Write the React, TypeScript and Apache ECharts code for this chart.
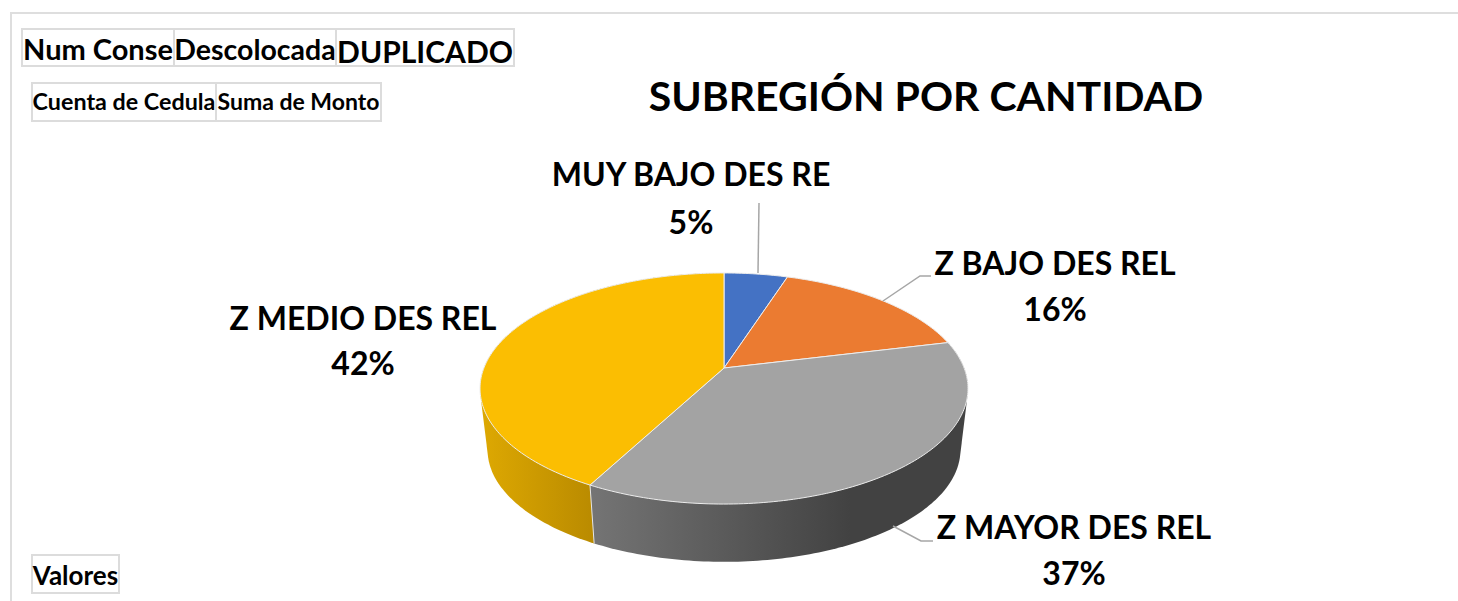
import React, { useEffect, useRef } from "react";
import * as echarts from "echarts";

const categories = ["MUY BAJO DES RE", "Z BAJO DES REL", "Z MAYOR DES REL", "Z MEDIO DES REL"];
const sliceValues = [5.0, 16.2, 36.6, 42.2];
const sliceColors = ["#4472C4", "#EB7B31", "#A3A3A3", "#FBBE02"];
const titleText = "SUBREGIÓN POR CANTIDAD";
const topFields = ["Num Conse", "Descolocada", "DUPLICADO"];
const valueFields = ["Cuenta de Cedula", "Suma de Monto"];
const axisField = "Valores";

// layout only
const FONT = "Lato, Carlito, Calibri, sans-serif";
const CX = 724, APEX_Y = 368, BASE_Y = 430, BASE_SCALE = 0.969;
const R = 240.1, S = 111.9, K = 0.1775;
const labelPos = [
  { x: 691, y: 173, py: 221 },
  { x: 1055, y: 262, py: 308 },
  { x: 1074, y: 526, py: 572 },
  { x: 363, y: 317, py: 362 },
];
const leaders: number[][][] = [
  [[758, 273], [759, 203]],
  [[883, 301], [920, 276], [931, 276]],
  [[893, 526], [921, 541], [933, 541]],
  [],
];
const wallFill: any[] = [
  null,
  null,
  { type: "linear", x: 593, y: 0, x2: 850, y2: 0, global: true, colorStops: [{ offset: 0, color: "#747474" }, { offset: 1, color: "#424242" }] },
  { type: "linear", x: 483, y: 0, x2: 592, y2: 0, global: true, colorStops: [{ offset: 0, color: "#DDA802" }, { offset: 1, color: "#BA8B00" }] },
];

function project(turn: number, y0: number, s: number): number[] {
  const a = turn * 2 * Math.PI;
  const u = Math.sin(a), v = -Math.cos(a);
  const d = 1 - K * v;
  return [CX + (s * R * u) / d, y0 + (s * S * v) / d];
}

function arc(from: number, to: number, y0: number, s: number): number[][] {
  const n = Math.max(2, Math.ceil((to - from) * 360));
  const pts: number[][] = [];
  for (let i = 0; i <= n; i++) pts.push(project(from + ((to - from) * i) / n, y0, s));
  return pts;
}

// Outline of a wall: the swept band between the rim and the base of a slice.
function hull(points: number[][]): number[][] {
  const p = points.slice().sort((a, b) => a[0] - b[0] || a[1] - b[1]);
  const cross = (o: number[], a: number[], b: number[]) =>
    (a[0] - o[0]) * (b[1] - o[1]) - (a[1] - o[1]) * (b[0] - o[0]);
  const lower: number[][] = [];
  for (const q of p) {
    while (lower.length >= 2 && cross(lower[lower.length - 2], lower[lower.length - 1], q) <= 0) lower.pop();
    lower.push(q);
  }
  const upper: number[][] = [];
  for (let i = p.length - 1; i >= 0; i--) {
    const q = p[i];
    while (upper.length >= 2 && cross(upper[upper.length - 2], upper[upper.length - 1], q) <= 0) upper.pop();
    upper.push(q);
  }
  return lower.slice(0, -1).concat(upper.slice(0, -1));
}

const total = sliceValues.reduce((a, b) => a + b, 0);

function renderItem(params: any, api: any) {
  const i = params.dataIndex;
  const before = sliceValues.slice(0, i).reduce((a, b) => a + b, 0);
  const from = before / total;
  const to = from + Number(api.value(0)) / total;
  const children: any[] = [];
  if (wallFill[i]) {
    const top = arc(from, to, APEX_Y, 1);
    const base = arc(from, to, BASE_Y, BASE_SCALE);
    children.push({
      type: "polygon",
      z2: i === 2 ? 2 : 1,
      shape: { points: hull(top.concat(base)) },
      style: { fill: wallFill[i], stroke: "none" },
    });
    if (i === 3) {
      children.push({
        type: "polyline",
        z2: 3,
        shape: { points: [project(from, APEX_Y, 1), project(from, BASE_Y, BASE_SCALE)] },
        style: { fill: "none", stroke: "#E6E6E6", lineWidth: 1 },
      });
    }
  }
  children.push({
    type: "polygon",
    z2: 4,
    shape: { points: [[CX, APEX_Y]].concat(arc(from, to, APEX_Y, 1)) },
    style: { fill: sliceColors[i], stroke: "#EDEDED", lineWidth: 1 },
  });
  if (leaders[i].length) {
    children.push({
      type: "polyline",
      z2: 5,
      shape: { points: leaders[i] },
      style: { fill: "none", stroke: "#A6A6A6", lineWidth: 1.5 },
    });
  }
  const pct = Math.round((Number(api.value(0)) / total) * 100) + "%";
  const p = labelPos[i];
  const textStyle = { fill: "#000", font: `bold 32px ${FONT}`, align: "center", verticalAlign: "middle" };
  children.push({ type: "text", z2: 6, x: p.x, y: p.y, style: { ...textStyle, text: categories[i] } });
  children.push({ type: "text", z2: 6, x: p.x, y: p.py, style: { ...textStyle, text: pct } });
  return { type: "group", children };
}

function fieldButton(x: number, y: number, w: number, h: number, text: string, size: number, dy: number) {
  return {
    type: "group",
    children: [
      { type: "rect", shape: { x, y, width: w, height: h }, style: { fill: "#fff", stroke: "#DCDCDC", lineWidth: 2 } },
      {
        type: "text",
        x: x + w / 2,
        y: y + h / 2 + dy,
        style: { text, fill: "#000", font: `bold ${size}px ${FONT}`, align: "center", verticalAlign: "middle" },
      },
    ],
  };
}

export default function App() {
  const ref = useRef<HTMLDivElement>(null);
  useEffect(() => {
    if (!ref.current) return;
    const chart = echarts.init(ref.current, undefined, { renderer: "svg" });
    chart.setOption({
      animation: false,
      backgroundColor: "#fff",
      title: {
        text: titleText,
        left: 921,
        top: 70,
        textAlign: "center",
        textStyle: { color: "#000", fontFamily: FONT, fontWeight: "bold", fontSize: 41 },
      },
      graphic: [
        { type: "polyline", shape: { points: [[11, 601], [11, 13], [1458, 13]] }, style: { fill: "none", stroke: "#DEDEDE", lineWidth: 2 } },
        fieldButton(22, 29, 152, 37, topFields[0], 29, 1),
        fieldButton(174, 29, 162, 37, topFields[1], 28.5, 1),
        fieldButton(336, 29, 178, 37, topFields[2], 30, 3),
        fieldButton(32, 83, 184, 38, valueFields[0], 23.3, -1),
        fieldButton(216, 83, 165, 38, valueFields[1], 23, -1),
        fieldButton(32, 555, 87, 38, axisField, 26, 1),
      ],
      series: [
        {
          type: "custom",
          coordinateSystem: "none",
          name: titleText,
          data: sliceValues,
          renderItem,
        },
      ],
    });
    return () => chart.dispose();
  }, []);
  return <div ref={ref} style={{ position: "fixed", left: 0, top: 0, width: 1458, height: 601 }} />;
}
